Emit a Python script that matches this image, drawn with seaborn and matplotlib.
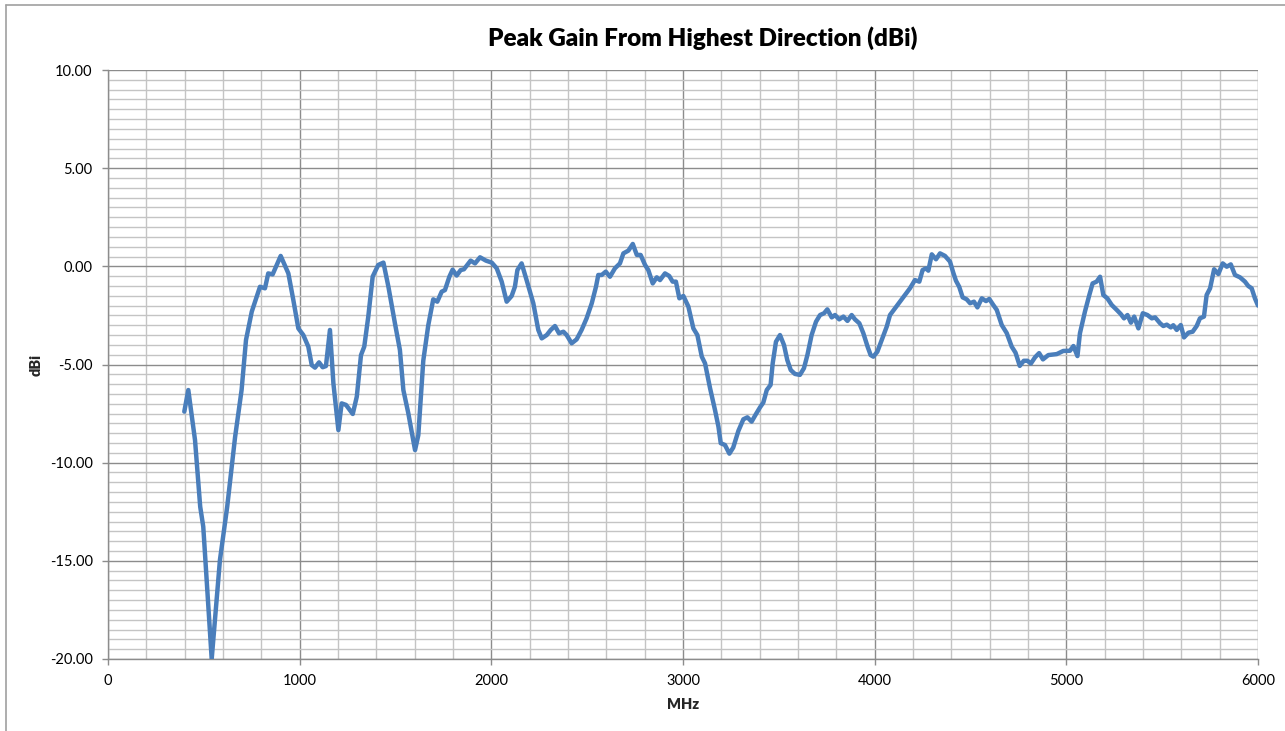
import numpy as np
import pandas as pd
import matplotlib
matplotlib.use("Agg")
import matplotlib.pyplot as plt
from matplotlib.ticker import MultipleLocator, FormatStrFormatter
from matplotlib.lines import Line2D
import seaborn as sns

title = "Peak Gain From Highest Direction (dBi)"
x_label = "MHz"
y_label = "dBi"

freq_mhz = [
    398, 419, 454, 466, 481, 497, 541, 584, 622, 663, 697, 720, 750, 793, 819, 836, 859, 901,
    941, 967, 993, 1019, 1045, 1063, 1080, 1101, 1120, 1137, 1158, 1176, 1202, 1219, 1242,
    1277, 1298, 1320, 1337, 1358, 1381, 1410, 1437, 1463, 1497, 1523, 1541, 1567, 1602, 1619,
    1645, 1671, 1697, 1718, 1741, 1758, 1781, 1798, 1819, 1840, 1857, 1892, 1915, 1941, 1972,
    2002, 2028, 2054, 2080, 2106, 2123, 2136, 2158, 2184, 2219, 2245, 2263, 2289, 2310, 2332,
    2353, 2376, 2393, 2419, 2445, 2471, 2497, 2524, 2546, 2558, 2576, 2597, 2619, 2645, 2671,
    2689, 2715, 2738, 2759, 2779, 2802, 2819, 2842, 2863, 2880, 2906, 2928, 2946, 2963, 2981,
    3002, 3028, 3054, 3075, 3098, 3115, 3141, 3167, 3185, 3197, 3219, 3242, 3262, 3289, 3315,
    3336, 3358, 3381, 3402, 3419, 3437, 3457, 3468, 3485, 3506, 3527, 3544, 3562, 3584, 3610,
    3631, 3649, 3671, 3694, 3715, 3736, 3753, 3776, 3793, 3815, 3837, 3858, 3880, 3897, 3920,
    3941, 3963, 3979, 3993, 4014, 4037, 4063, 4080, 4106, 4132, 4158, 4184, 4210, 4233, 4250,
    4268, 4280, 4298, 4320, 4341, 4367, 4393, 4410, 4424, 4441, 4459, 4480, 4498, 4518, 4536,
    4559, 4581, 4598, 4619, 4637, 4663, 4689, 4715, 4735, 4757, 4778, 4797, 4815, 4837, 4858,
    4878, 4906, 4950, 4984, 5019, 5037, 5058, 5071, 5097, 5120, 5137, 5158, 5176, 5193, 5214,
    5237, 5263, 5284, 5301, 5319, 5337, 5354, 5376, 5399, 5423, 5446, 5463, 5489, 5506, 5524,
    5545, 5558, 5576, 5597, 5614, 5637, 5659, 5680, 5697, 5718, 5732, 5750, 5771, 5793, 5816,
    5837, 5858, 5880, 5906, 5932, 5949, 5967, 5984, 6000,
]

gain_dbi = [
    -7.40, -6.30, -8.85, -10.37, -12.24, -13.26, -20.00, -14.96, -12.24, -8.70, -6.30, -3.75,
    -2.31, -1.04, -1.12, -0.36, -0.41, 0.53, -0.36, -1.72, -3.16, -3.50, -4.09, -5.03, -5.16,
    -4.89, -5.14, -5.08, -3.24, -5.96, -8.34, -6.98, -7.06, -7.52, -6.64, -4.52, -4.09, -2.56,
    -0.52, 0.07, 0.19, -1.04, -2.90, -4.26, -6.30, -7.49, -9.36, -8.60, -4.80, -3.00, -1.68,
    -1.80, -1.29, -1.21, -0.53, -0.17, -0.47, -0.19, -0.15, 0.29, 0.15, 0.46, 0.29, 0.19,
    -0.10, -0.78, -1.80, -1.51, -1.04, -0.19, 0.15, -0.70, -1.88, -3.24, -3.67, -3.50, -3.24,
    -3.04, -3.41, -3.33, -3.50, -3.92, -3.72, -3.24, -2.65, -1.88, -1.04, -0.44, -0.44, -0.27,
    -0.53, -0.10, 0.15, 0.66, 0.80, 1.14, 0.58, 0.58, 0.07, -0.19, -0.87, -0.56, -0.70, -0.36,
    -0.49, -0.78, -0.78, -1.63, -1.51, -2.05, -3.16, -3.50, -4.60, -4.94, -6.20, -7.32, -8.17,
    -9.01, -9.10, -9.54, -9.23, -8.38, -7.79, -7.69, -7.91, -7.52, -7.18, -6.94, -6.30, -6.04,
    -4.94, -3.84, -3.50, -4.01, -4.77, -5.28, -5.48, -5.53, -5.19, -4.52, -3.50, -2.82, -2.48,
    -2.39, -2.19, -2.60, -2.48, -2.70, -2.56, -2.78, -2.48, -2.70, -2.90, -3.41, -4.09, -4.52,
    -4.60, -4.35, -3.75, -3.07, -2.48, -2.14, -1.80, -1.46, -1.12, -0.70, -0.78, -0.19, -0.10,
    -0.22, 0.61, 0.36, 0.66, 0.53, 0.24, -0.32, -0.73, -1.04, -1.58, -1.68, -1.88, -1.80,
    -2.09, -1.63, -1.77, -1.66, -1.97, -2.22, -2.99, -3.40, -4.09, -4.40, -5.07, -4.81, -4.81,
    -4.95, -4.63, -4.42, -4.74, -4.52, -4.47, -4.31, -4.30, -4.06, -4.57, -3.41, -2.31, -1.46,
    -0.87, -0.78, -0.53, -1.46, -1.63, -1.97, -2.22, -2.43, -2.65, -2.48, -2.87, -2.56, -3.16,
    -2.39, -2.48, -2.65, -2.60, -2.90, -3.04, -2.97, -3.11, -3.00, -3.24, -2.99, -3.62, -3.38,
    -3.33, -3.04, -2.65, -2.56, -1.46, -1.12, -0.15, -0.39, 0.15, -0.02, 0.10, -0.44, -0.56,
    -0.78, -1.00, -1.12, -1.63, -2.00,
]

df = pd.DataFrame({"MHz": freq_mhz, "dBi": gain_dbi})

sns.set_theme(style="white")
plt.rcParams["font.family"] = ["Lato", "DejaVu Sans"]

W, H = 1285, 731
fig = plt.figure(figsize=(W / 100, H / 100), dpi=100)
ax = fig.add_axes([108 / W, 1 - 659 / H, (1258 - 108) / W, (659 - 70) / H])

sns.lineplot(data=df, x="MHz", y="dBi", ax=ax, color="#4A7EBB", linewidth=3.2,
             estimator=None, sort=False, solid_joinstyle="round", solid_capstyle="round",
             zorder=5, clip_on=True)

ax.set_xlim(0, 6000)
ax.set_ylim(-20, 10)
ax.xaxis.set_major_locator(MultipleLocator(1000))
ax.xaxis.set_minor_locator(MultipleLocator(200))
ax.yaxis.set_major_locator(MultipleLocator(5))
ax.yaxis.set_minor_locator(MultipleLocator(0.5))
ax.yaxis.set_major_formatter(FormatStrFormatter("%.2f"))

ax.grid(which="major", color="#8C8C8C", linewidth=1.0)
ax.grid(which="minor", color="#C4C4C4", linewidth=1.0)
ax.set_axisbelow(True)

for side in ["top", "right"]:
    ax.spines[side].set_visible(False)
for side in ["left", "bottom"]:
    ax.spines[side].set_color("#8C8C8C")
    ax.spines[side].set_linewidth(1.0)

ax.tick_params(which="major", direction="out", length=4, width=1.0, color="#8C8C8C",
               labelsize=10.5, labelcolor="#000000", pad=7, left=True, bottom=True)
ax.tick_params(which="minor", length=0)

ax.set_xlabel(x_label, fontsize=10.5, fontweight="heavy", labelpad=7)
ax.set_ylabel(y_label, fontsize=10.5, fontweight="heavy", labelpad=5)

fig.text(703 / W, 1 - 38 / H, title, ha="center", va="center", fontsize=17.5,
         fontweight="heavy", color="#000000")

# chart-area frame (left and top edges visible in the reference)
fig.add_artist(Line2D([6 / W, 6 / W], [0, 1 - 5 / H], transform=fig.transFigure,
                      color="#A0A0A0", linewidth=1.2))
fig.add_artist(Line2D([6 / W, 1], [1 - 5 / H, 1 - 5 / H], transform=fig.transFigure,
                      color="#A0A0A0", linewidth=1.2))

fig.savefig("out.png", dpi=100, facecolor="white")
